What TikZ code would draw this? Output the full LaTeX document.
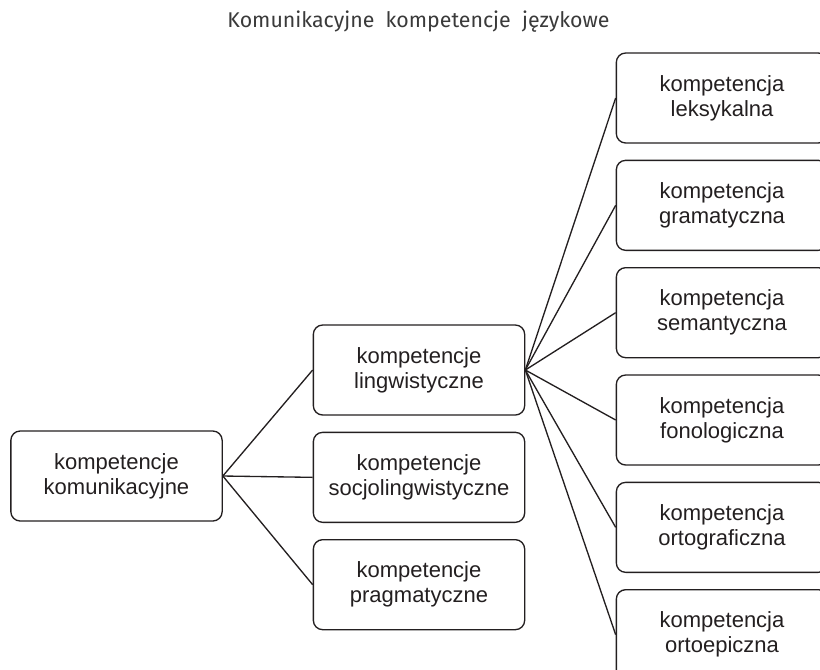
\documentclass[tikz,border=0pt]{standalone}
\usepackage{fontspec}
\setmainfont{Liberation Sans}
\newfontfamily\tytulfont{Fira Sans}
\usetikzlibrary{positioning}
\definecolor{kkline}{HTML}{231F20}
\definecolor{kktitle}{HTML}{3A3A3A}

\begin{document}
\begin{tikzpicture}[x=0.75pt, y=-0.75pt,
    kbox/.style={rectangle, rounded corners=7pt, draw=kkline, line width=1pt, align=center,
                 minimum width=158.5pt, minimum height=67.5pt, text=kkline,
                 font=\fontsize{16.5}{18.75}\selectfont},
    conn/.style={draw=kkline, line width=1pt}
  ]
    \clip (0,0) rectangle (820,669);
    \node[anchor=base, text=kktitle, font=\tytulfont\fontsize{16}{18}\selectfont]
      (tytul) at (418.5,27) {Komunikacyjne\ \ kompetencje\ \ językowe};
    \node[kbox] (kom) at (116.5,476) {kompetencje\\ komunikacyjne};
    \node[kbox] (ling) at (419,370) {kompetencje\\ lingwistyczne};
    \node[kbox, below=12pt of ling] (socjo) {kompetencje\\ socjolingwistyczne};
    \node[kbox, below=12pt of socjo] (prag) {kompetencje\\ pragmatyczne};
    \node[kbox] (leks) at (722,98) {kompetencja\\ leksykalna};
    \node[kbox, below=12pt of leks] (gram) {kompetencja\\ gramatyczna};
    \node[kbox, below=12pt of gram] (sem) {kompetencja\\ semantyczna};
    \node[kbox, below=12pt of sem] (fon) {kompetencja\\ fonologiczna};
    \node[kbox, below=12pt of fon] (orto) {kompetencja\\ ortograficzna};
    \node[kbox, below=12pt of orto] (ortoep) {kompetencja\\ ortoepiczna};
    \foreach \n in {ling, socjo, prag}
      \draw[conn] (kom.east) -- (\n.west);
    \foreach \n in {leks, gram, sem, fon, orto, ortoep}
      \draw[conn] (ling.east) -- (\n.west);
  \end{tikzpicture}
\end{document}
